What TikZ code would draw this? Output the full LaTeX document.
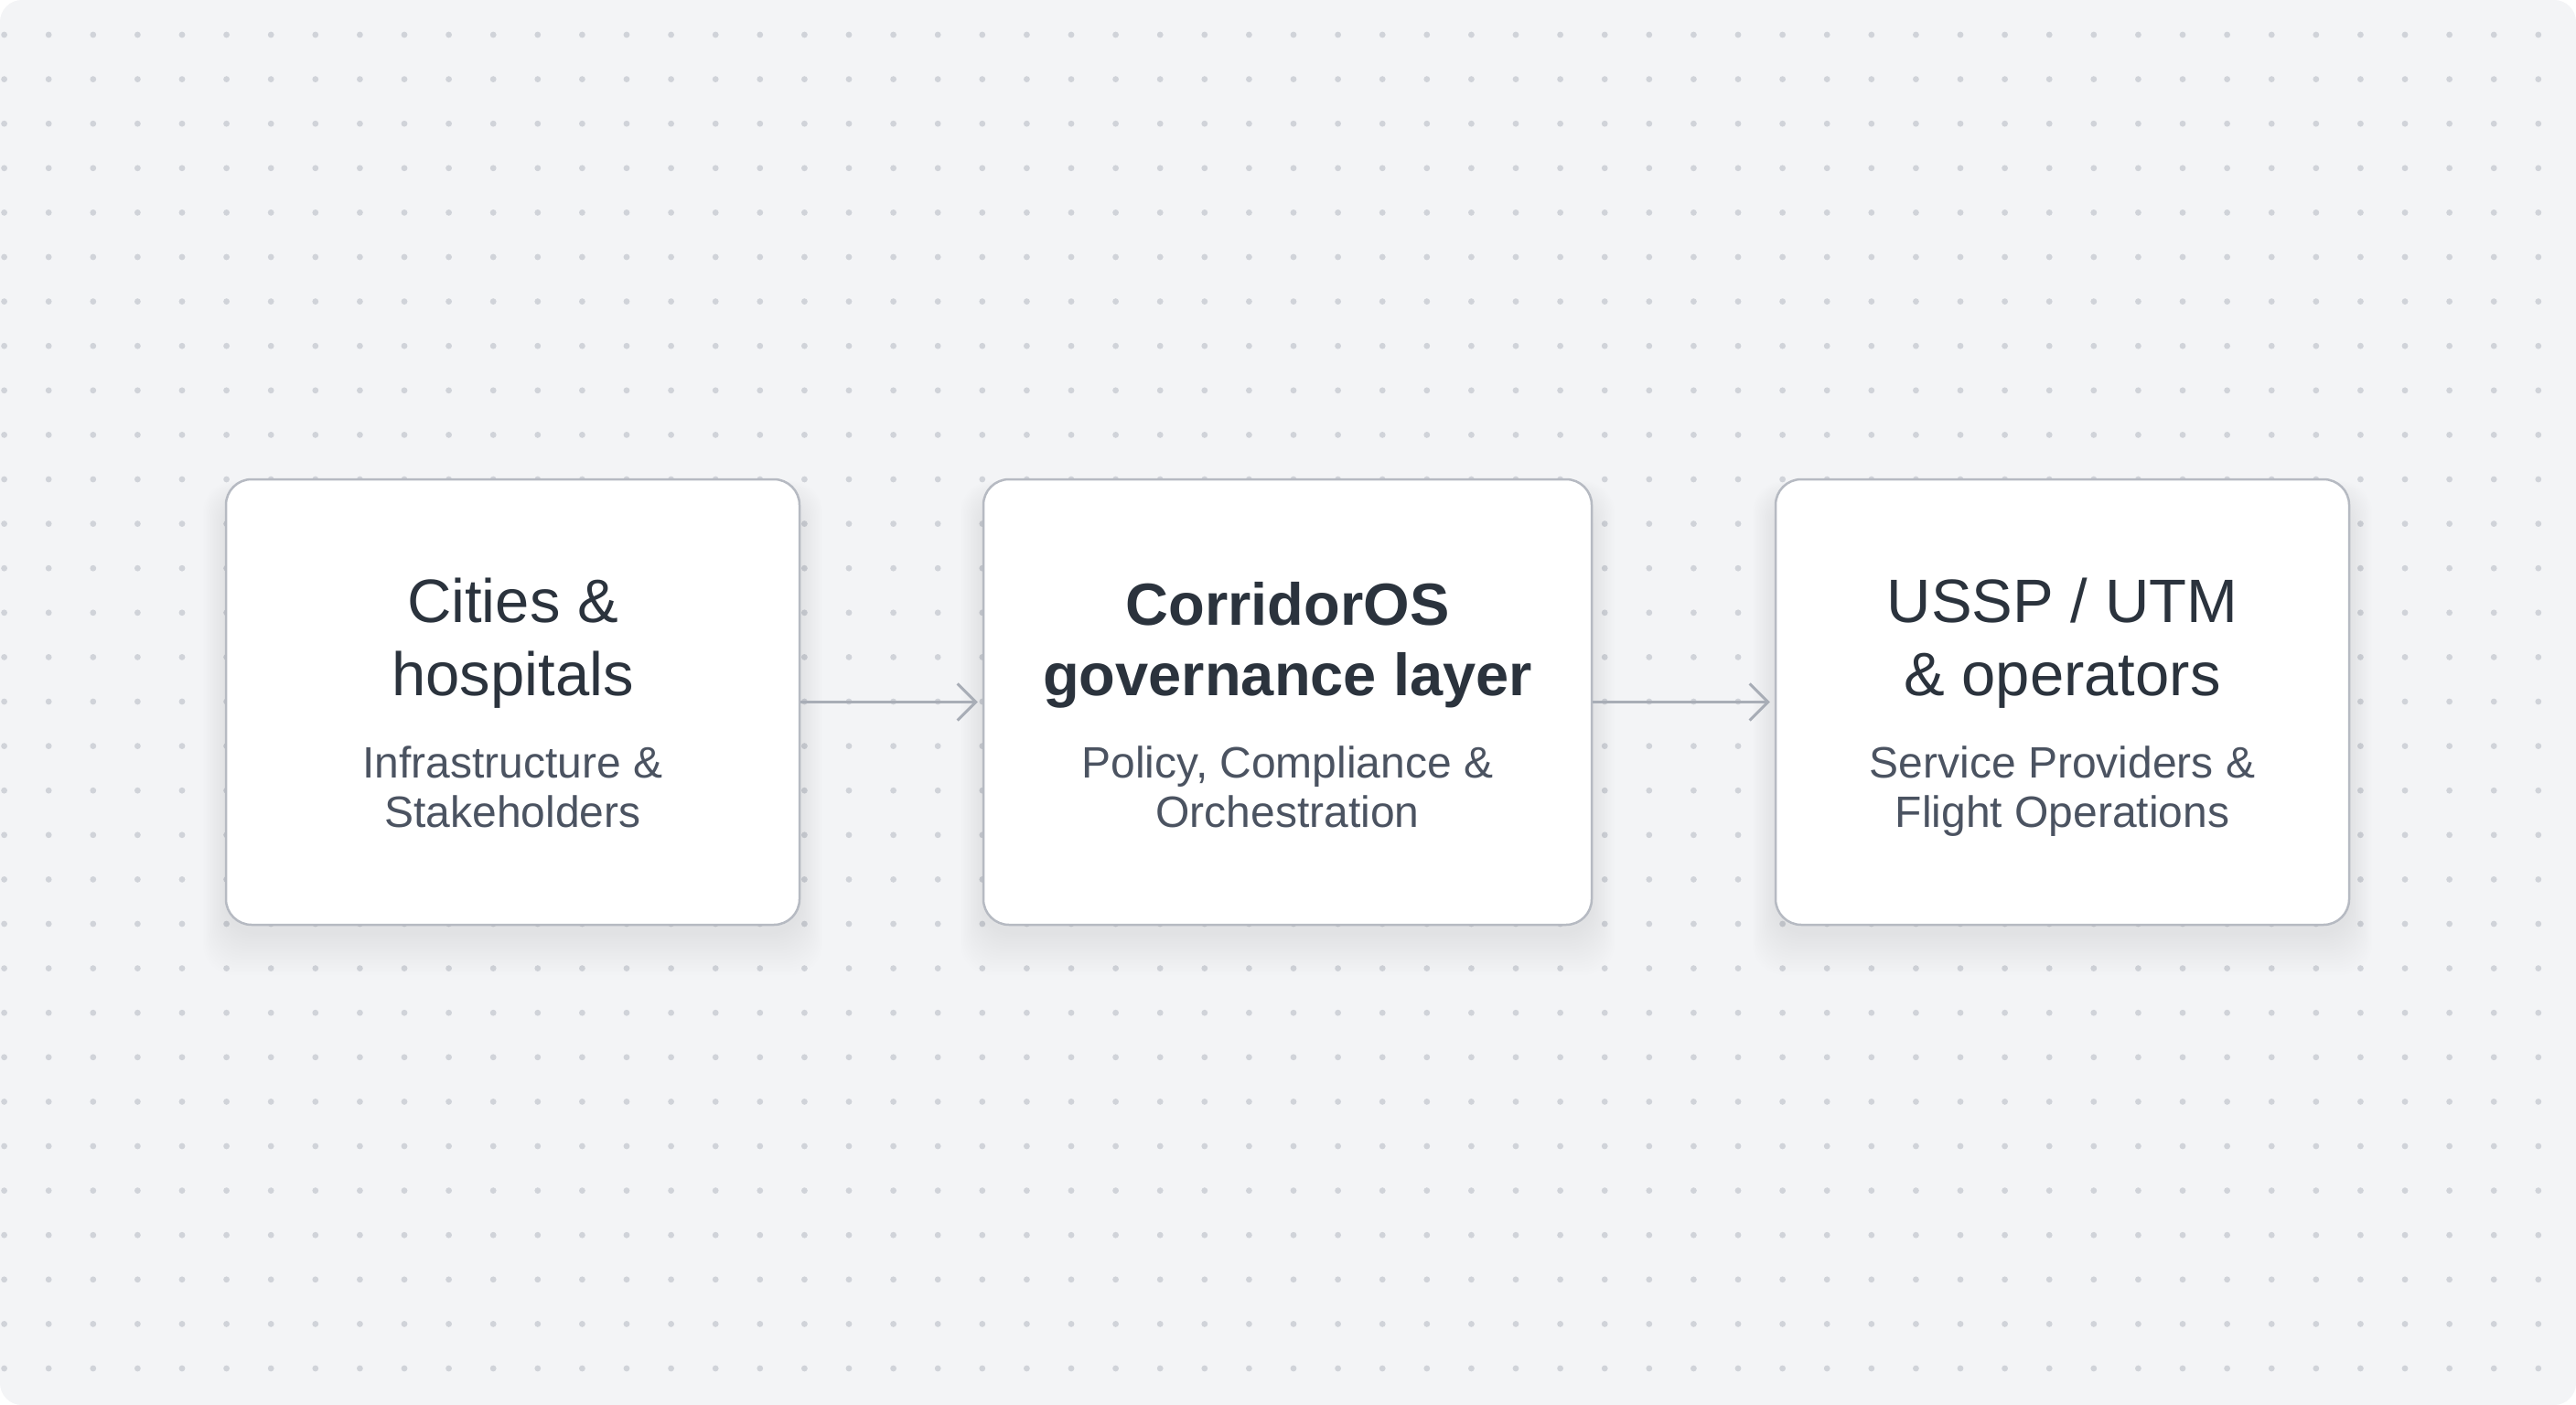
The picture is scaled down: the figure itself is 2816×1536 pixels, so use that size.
\documentclass[tikz,border=0pt]{standalone}
\usepackage{fontspec}
\setmainfont{Liberation Sans}
\usetikzlibrary{arrows.meta}
\definecolor{bgc}{HTML}{F3F4F6}
\definecolor{dotc}{HTML}{D0D3D9}
\definecolor{edgec}{HTML}{B6BAC2}
\definecolor{titlec}{HTML}{2B333D}
\definecolor{subc}{HTML}{4B5361}
\definecolor{arrc}{HTML}{A8ADB6}
\tikzset{
 card/.style={draw=edgec, line width=2.5pt, fill=white, rounded corners=28pt, minimum height=487pt, inner sep=0pt},
 ttl/.style={anchor=base, text=titlec, font=\fontsize{67pt}{80pt}\selectfont, inner sep=0pt},
 ttlb/.style={anchor=base, text=titlec, font=\fontsize{65pt}{80pt}\selectfont\bfseries, inner sep=0pt},
 subt/.style={anchor=base, text=subc, font=\fontsize{48pt}{56pt}\selectfont, inner sep=0pt},
 flow/.style={draw=arrc, line width=3pt, -{Straight Barb[length=20pt,width=40pt,line width=3pt]}, shorten >=5pt},
 shade/.style={fill=black!80!blue, opacity=0.0055, rounded corners=34pt}
}
\begin{document}
\begin{tikzpicture}[x=1pt,y=-1pt]
\useasboundingbox (0,0) rectangle (2816,1536);
\fill[white] (0,0) rectangle (2816,1536);
\fill[bgc, rounded corners=24pt] (0,0) rectangle (2816,1536);
% dot grid
\foreach \i in {-19,...,38}{
  \foreach \j in {-15,...,15}{
    \fill[dotc] ({928+48.6*\i},{767+48.6*\j}) circle (3.4);
  }
}
% soft shadows
\foreach \l/\r in {247/874,1075/1740,1941/2568}{
  \foreach \k in {1,...,18}{
    \fill[shade] ({\l-\k*1.4},{524+20-\k*1.0}) rectangle ({\r+\k*1.4},{1011+8+\k*2.6});
  }
}
% cards
\node[card, minimum width=627pt] (b1) at (560.5,767.5) {};
\node[card, minimum width=665pt] (b2) at (1407.5,767.5) {};
\node[card, minimum width=627pt] (b3) at (2254.5,767.5) {};
% texts box 1
\node[ttl] (t1a) at (560.5,680) {Cities \&};
\node[ttl] (t1b) at (560.5,760) {hospitals};
\node[subt] (s1a) at (560.5,850) {Infrastructure \&};
\node[subt] (s1b) at (560.5,904) {Stakeholders};
% texts box 2
\node[ttlb] (t2a) at (1407.5,683) {CorridorOS};
\node[ttlb] (t2b) at (1407.5,760) {governance layer};
\node[subt] (s2a) at (1407.5,850) {Policy, Compliance \&};
\node[subt] (s2b) at (1407.5,904) {Orchestration};
% texts box 3
\node[ttl] (t3a) at (2254.5,680) {USSP / UTM};
\node[ttl] (t3b) at (2254.5,760) {\& operators};
\node[subt] (s3a) at (2254.5,850) {Service Providers \&};
\node[subt] (s3b) at (2254.5,904) {Flight Operations};
% connectors
\draw[flow] (b1.east) -- (b2.west);
\draw[flow] (b2.east) -- (b3.west);
\end{tikzpicture}
\end{document}
